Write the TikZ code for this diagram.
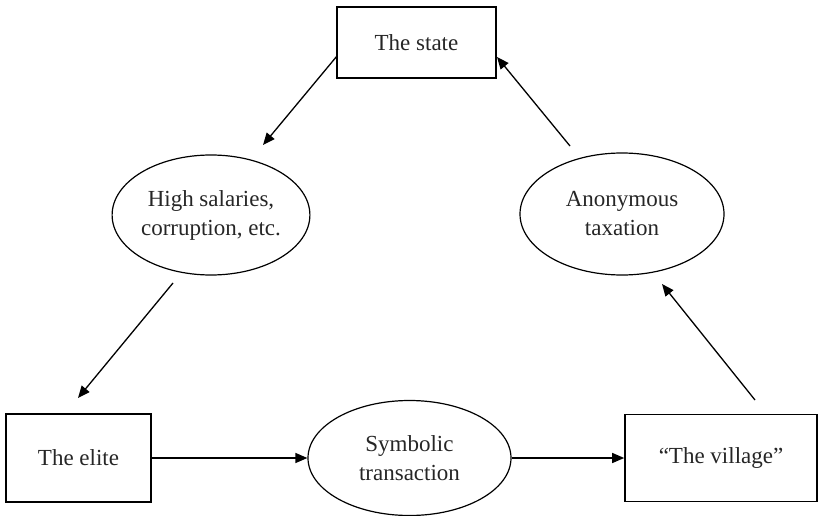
\documentclass[tikz,border=0pt]{standalone}
\usepackage{fontspec}
\setmainfont{Liberation Serif}
\usetikzlibrary{shapes.geometric,arrows.meta}
\begin{document}
\begin{tikzpicture}[x=1pt,y=-1pt,
  lbl/.style={font=\fontsize{23}{29}\selectfont, align=center, inner sep=0pt, text=black!85},
  box/.style={lbl, draw, rectangle, line width=1.6pt},
  oval/.style={lbl, draw, ellipse, line width=1.2pt},
  arr/.style={line width=1.3pt, -{Triangle[length=12pt,width=10pt]}}]
\useasboundingbox (0,0) rectangle (819,516);
\node[box, minimum width=159pt, minimum height=71pt] (state) at (416.5,42.5) {The state};
\node[oval, minimum width=178pt, minimum height=120pt] (high) at (211,215) {High salaries,\\corruption, etc.};
\node[oval, minimum width=204pt, minimum height=122pt] (anon) at (622,214) {Anonymous\\taxation};
\node[box, minimum width=145pt, minimum height=88pt] (elite) at (78.5,458) {The elite};
\node[oval, minimum width=203pt, minimum height=115pt] (sym) at (409.5,458) {Symbolic\\transaction};
\node[box, minimum width=192pt, minimum height=87pt] (village) at (721,458) {``The village''};
\coordinate (s1) at (337,56);
\coordinate (e1) at (263,145);
\coordinate (s2) at (173,283);
\coordinate (e2) at (78,398);
\coordinate (s5) at (755,400);
\coordinate (e5) at (662,284);
\coordinate (s6) at (570,146);
\coordinate (e6) at (497,57);
\draw[arr] (s1) -- (e1);
\draw[arr] (s2) -- (e2);
\draw[arr] (elite.east) -- (sym.west);
\draw[arr] (sym.east) -- (village.west);
\draw[arr] (s5) -- (e5);
\draw[arr] (s6) -- (e6);
\end{tikzpicture}
\end{document}
